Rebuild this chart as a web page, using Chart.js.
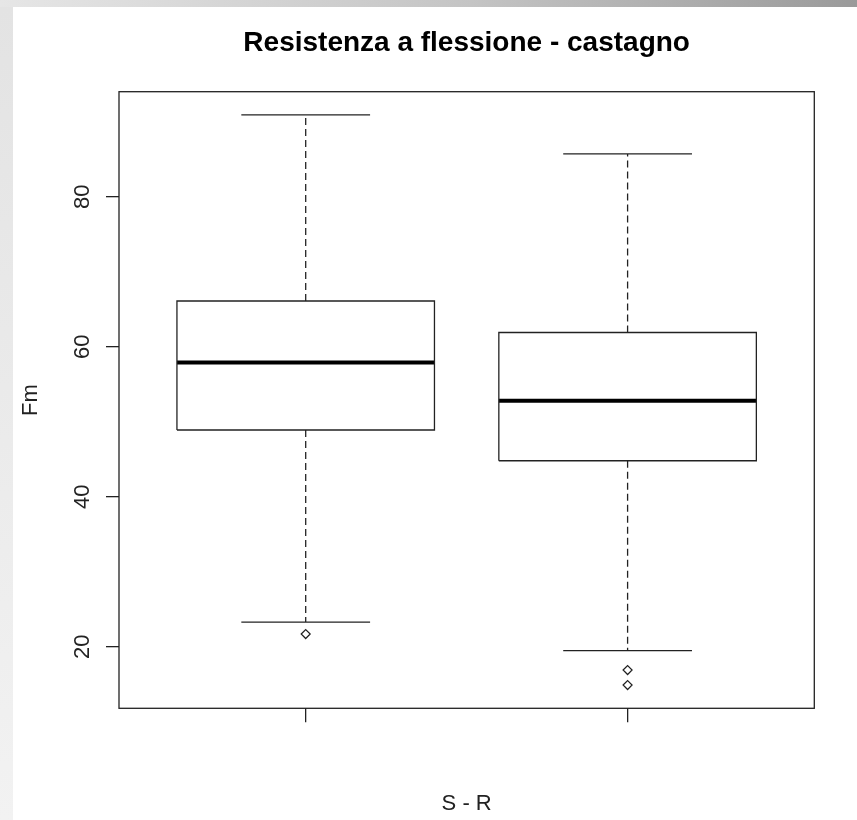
<!DOCTYPE html>
<html>
<head>
<meta charset="utf-8">
<title>Resistenza a flessione - castagno</title>
<script src="https://cdn.jsdelivr.net/npm/chart.js@4/dist/chart.umd.min.js"></script>
<style>
  html, body { margin: 0; padding: 0; background: #fff; }
  #wrap { position: relative; width: 857px; height: 820px; overflow: hidden; }
  #topStrip { position: absolute; left: 0; top: 0; width: 857px; height: 7px;
    background: linear-gradient(to right, #e6e6e6, #c4c4c4 55%, #9a9a9a); }
  #leftStrip { position: absolute; left: 0; top: 7px; width: 13px; height: 813px;
    background: linear-gradient(to bottom, #e3e3e3, #f2f2f2); }
  #chartBox { position: absolute; left: 0; top: 0; width: 857px; height: 820px; }
</style>
</head>
<body>
<div id="wrap">
  <div id="topStrip"></div>
  <div id="leftStrip"></div>
  <div id="chartBox"><canvas id="box-chart"></canvas></div>
</div>
<script>
// boxplot statistics (Fm, S and R groups)
const groups = ['S', 'R'];
const lowerWhisker = [23.3, 19.5];
const q1 = [48.9, 44.8];
const median = [57.9, 52.8];
const q3 = [66.1, 61.9];
const upperWhisker = [90.9, 85.7];
const outliers = [[21.7], [16.9, 14.9]];
const yTicks = [20, 40, 60, 80];

const INK = '#222';
const FONT = "'Liberation Sans', Arial, sans-serif";
const BOX_HALF = 0.4;    // half box width in x units (R default)
const STAPLE_HALF = 0.2; // half whisker cap width

function seg(points, extra) {
  return Object.assign({
    data: points,
    showLine: true,
    fill: false,
    tension: 0,
    pointRadius: 0,
    borderColor: INK,
    borderWidth: 1.3
  }, extra || {});
}

function buildDatasets() {
  const sets = [];
  groups.forEach((g, i) => {
    const x = i + 1;
    // dashed whiskers
    sets.push(seg([{x: x, y: q3[i]}, {x: x, y: upperWhisker[i]}], {borderDash: [7, 4]}));
    sets.push(seg([{x: x, y: q1[i]}, {x: x, y: lowerWhisker[i]}], {borderDash: [7, 4]}));
    // staples
    sets.push(seg([{x: x - STAPLE_HALF, y: upperWhisker[i]}, {x: x + STAPLE_HALF, y: upperWhisker[i]}]));
    sets.push(seg([{x: x - STAPLE_HALF, y: lowerWhisker[i]}, {x: x + STAPLE_HALF, y: lowerWhisker[i]}]));
    // box
    sets.push(seg([
      {x: x - BOX_HALF, y: q1[i]}, {x: x + BOX_HALF, y: q1[i]},
      {x: x + BOX_HALF, y: q3[i]}, {x: x - BOX_HALF, y: q3[i]},
      {x: x - BOX_HALF, y: q1[i]}
    ], {backgroundColor: '#fff'}));
    // median
    sets.push(seg([{x: x - BOX_HALF, y: median[i]}, {x: x + BOX_HALF, y: median[i]}],
      {borderWidth: 4, borderColor: '#000', borderCapStyle: 'butt'}));
    // outliers
    sets.push({
      data: outliers[i].map(v => ({x: x, y: v})),
      showLine: false,
      pointStyle: 'rectRot',
      pointRadius: 4.5,
      pointBorderWidth: 1.2,
      pointBorderColor: INK,
      pointBackgroundColor: '#fff'
    });
  });
  return sets;
}

// full frame around the plot region, like R's bty = "o"
const frame = {
  id: 'frame',
  afterDatasetsDraw(chart) {
    const {ctx, chartArea: a} = chart;
    ctx.save();
    ctx.strokeStyle = INK;
    ctx.lineWidth = 1.3;
    ctx.strokeRect(a.left, a.top, a.right - a.left, a.bottom - a.top);
    ctx.restore();
  }
};

const ctx = document.getElementById('box-chart').getContext('2d');
new Chart(ctx, {
  type: 'scatter',
  data: {datasets: buildDatasets()},
  options: {
    responsive: true,
    maintainAspectRatio: false,
    animation: false,
    layout: {padding: {left: 0, top: 0, right: 42.7, bottom: 0}},
    plugins: {
      legend: {display: false},
      tooltip: {enabled: false},
      title: {
        display: true,
        fullSize: false,
        text: 'Resistenza a flessione - castagno',
        color: '#000',
        font: {family: FONT, size: 28, weight: 'bold'},
        padding: {top: 26.8, bottom: 31.3}
      }
    },
    scales: {
      x: {
        type: 'linear',
        min: 0.42,
        max: 2.58,
        afterBuildTicks: s => { s.ticks = groups.map((g, i) => ({value: i + 1})); },
        afterFit: s => { s.height = 111.7; },
        grid: {drawOnChartArea: false, drawTicks: true, tickLength: 14, color: INK, lineWidth: 1.3},
        border: {display: false},
        ticks: {display: false},
        title: {display: true, text: 'S - R', color: INK, font: {family: FONT, size: 22}, padding: {top: 0, bottom: 3}}
      },
      y: {
        min: 11.8,
        max: 94.0,
        afterBuildTicks: s => { s.ticks = yTicks.map(v => ({value: v})); },
        afterFit: s => { s.width = 119; },
        grid: {drawOnChartArea: false, drawTicks: true, tickLength: 13, color: INK, lineWidth: 1.3},
        border: {display: false},
        ticks: {
          autoSkip: false,
          minRotation: 90,
          maxRotation: 90,
          crossAlign: 'center',
          padding: 11,
          color: INK,
          font: {family: FONT, size: 22}
        },
        title: {display: true, text: 'Fm', color: INK, font: {family: FONT, size: 22}, padding: {top: 17.3, bottom: 0}}
      }
    }
  },
  plugins: [frame]
});
</script>
</body>
</html>
